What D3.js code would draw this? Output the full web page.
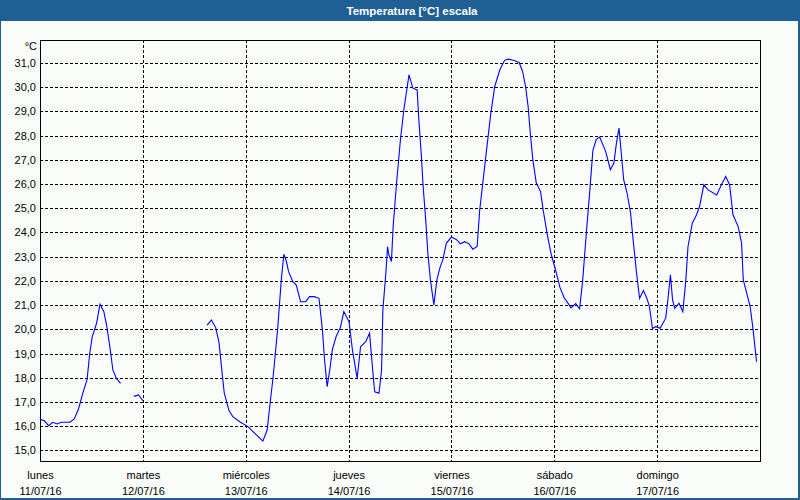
<!DOCTYPE html>
<html>
<head>
<meta charset="utf-8">
<script src="https://cdn.jsdelivr.net/npm/d3@7"></script>
<style>
  html, body { margin: 0; padding: 0; background: #fafcfa; }
  svg { display: block; }
  text { font-family: "Liberation Sans", Arial, sans-serif; }
</style>
</head>
<body>
<script>
// ---- data ----
const chartTitle = "Temperatura [°C] escala";
const unitLabel = "°C";
const dayNames = ["lunes", "martes", "miércoles", "jueves", "viernes", "sábado", "domingo"];
const dayDates = ["11/07/16", "12/07/16", "13/07/16", "14/07/16", "15/07/16", "16/07/16", "17/07/16"];
const yTicks = [15, 16, 17, 18, 19, 20, 21, 22, 23, 24, 25, 26, 27, 28, 29, 30, 31];
// hours since lunes 11/07/16 00:00 ; null value = gap in the record
const hours = [0,1,2,3,4,5,7,8,9,10,11,11.6,12.2,13.2,14,14.9,15.6,16.4,17,17.8,18.8,
  20,
  21.9,23,24,
  30,
  39,40,41,41.8,42.5,43,44.1,45,46.6,48.5,52,53,53.6,54.4,55.5,56.3,56.9,57.5,58,59,59.8,60.8,62,62.9,64,65.1,65.9,66.4,67,67.6,68.2,69.1,70.1,70.9,72.1,72.9,74,74.8,76,76.9,77.3,77.9,78.1,79.1,79.7,80,80.7,81.1,81.4,82,82.4,83.2,84.1,84.9,86.1,87,88,88.4,89,89.4,90,90.5,91.1,91.9,92.6,93.4,94,94.8,96,97.2,98.1,99.1,100.1,101,102,102.6,103.4,104.2,105.2,106.1,107.3,108.4,109.2,110.5,111.8,112.6,113.3,113.9,114.4,115,115.8,116.8,117.4,118.3,119.3,120.3,121.3,122.3,123.2,123.9,125,125.9,126.6,127.4,128.3,129,129.8,130.6,132,133.1,133.9,134.5,135.1,135.7,136.2,137,137.8,138.4,139.2,139.9,140.8,141.6,142.2,142.9,143.7,144.7,146,146.5,147.1,147.6,148.1,149.1,150,150.7,151.2,152.2,153.2,153.9,154.9,155.9,157.9,159,160,160.9,161.7,162.9,163.7,164.1,164.9,165.7,166.3,167.2];
const temps = [16.28,16.22,16.02,16.16,16.09,16.16,16.16,16.3,16.72,17.36,17.94,19.0,19.7,20.25,21.04,20.73,20.11,19.15,18.32,17.98,17.77,
  null,
  17.23,17.29,17.05,
  null,
  20.17,20.39,20.07,19.42,18.18,17.36,16.64,16.39,16.18,15.98,15.38,15.84,16.8,18.04,20.11,22.04,23.1,22.8,22.38,21.97,21.83,21.14,21.14,21.35,21.35,21.28,19.97,18.73,17.63,18.3,19.15,19.7,20.08,20.73,20.32,19.15,17.98,19.28,19.49,19.84,19.0,17.77,17.42,17.36,18.32,20.8,22.32,23.42,23.07,22.8,24.24,26.04,27.83,29.07,30.51,29.96,29.89,28.65,27.14,25.9,24.52,23.14,22.04,21.01,22.04,22.59,22.87,23.55,23.81,23.7,23.53,23.62,23.53,23.31,23.42,24.93,26.17,27.41,28.93,30.03,30.72,31.11,31.16,31.11,31.02,30.65,30.03,29.2,28.1,27.0,26.04,25.69,24.93,23.97,23.07,22.45,21.74,21.3,21.08,20.88,21.06,20.85,21.97,23.8,25.75,27.38,27.85,27.94,27.34,26.59,26.86,27.69,28.31,27.14,26.17,25.62,24.8,23.69,22.32,21.28,21.6,21.28,20.94,20.04,20.11,20.04,20.46,21.21,22.25,21.21,20.87,21.08,20.73,22.04,23.42,24.38,24.73,25.07,25.97,25.76,25.55,25.97,26.31,25.97,24.73,24.24,23.56,22.04,21.49,20.94,20.11,18.66];

// ---- layout ----
const W = 800, H = 500;
const plotL = 40, plotR = 760, plotT = 40, plotB = 461;
const barColor = "#1f5f94";

const svg = d3.select("body").append("svg").attr("width", W).attr("height", H);

svg.append("rect").attr("x", 0).attr("y", 0).attr("width", W).attr("height", H).attr("fill", "#fafcfa");
svg.append("rect").attr("x", 0).attr("y", 0).attr("width", W).attr("height", 21).attr("fill", barColor);
svg.append("text").attr("x", 412).attr("y", 10.5).attr("text-anchor", "middle").attr("dominant-baseline", "central")
  .attr("fill", "#ffffff").attr("font-weight", "bold").attr("font-size", "11.5px").text(chartTitle);
// outer frame
svg.append("rect").attr("x", 0.5).attr("y", 0.5).attr("width", W - 1).attr("height", H - 1)
  .attr("fill", "none").attr("stroke", barColor).attr("stroke-width", 1);
svg.append("line").attr("x1", W - 1.5).attr("x2", W - 1.5).attr("y1", 0).attr("y2", H).attr("stroke", barColor);
svg.append("line").attr("x1", 0).attr("x2", W).attr("y1", H - 1.5).attr("y2", H - 1.5).attr("stroke", barColor);

const start = new Date(2016, 6, 11);
const end = new Date(2016, 6, 18);
const x = d3.scaleTime().domain([start, end]).range([plotL, plotR]);
const y = d3.scaleLinear().domain([14.56, 31.95]).range([plotB, plotT]);
const hourDate = h => new Date(start.getTime() + h * 3600 * 1000);
const dayTicks = d3.range(dayNames.length).map(i => d3.timeDay.offset(start, i));

// horizontal grid
const grid = svg.append("g").attr("shape-rendering", "crispEdges");
grid.selectAll("line.h").data(yTicks).join("line")
  .attr("x1", plotL).attr("x2", plotR)
  .attr("y1", d => Math.round(y(d)) + 0.5).attr("y2", d => Math.round(y(d)) + 0.5)
  .attr("stroke", "#000").attr("stroke-dasharray", "3,2");
// vertical grid
grid.selectAll("line.v").data(dayTicks.slice(1)).join("line")
  .attr("x1", d => Math.round(x(d)) + 0.5).attr("x2", d => Math.round(x(d)) + 0.5)
  .attr("y1", plotT).attr("y2", plotB)
  .attr("stroke", "#000").attr("stroke-dasharray", "3,2");

// y axis labels
const yAxis = d3.axisLeft(y).tickValues(yTicks).tickSize(0).tickPadding(4)
  .tickFormat(d => d3.format(".1f")(d).replace(".", ","));
const ya = svg.append("g").attr("transform", `translate(${plotL},0)`).call(yAxis);
ya.select(".domain").remove();
ya.selectAll("text").attr("font-size", "11px").attr("fill", "#000").attr("font-family", "Liberation Sans, Arial, sans-serif");
svg.append("text").attr("x", 37).attr("y", 46).attr("text-anchor", "end").attr("dominant-baseline", "central")
  .attr("font-size", "11px").text(unitLabel);

// x axis labels (two lines)
const xAxis = d3.axisBottom(x).tickValues(dayTicks).tickSize(0).tickPadding(0).tickFormat(() => "");
const xa = svg.append("g").attr("transform", `translate(0,${plotB})`).call(xAxis);
xa.select(".domain").remove();
xa.selectAll(".tick").each(function(d, i) {
  const g = d3.select(this);
  g.append("text").attr("y", 14).attr("text-anchor", "middle").attr("dominant-baseline", "central")
    .attr("font-size", "11px").attr("fill", "#000").text(dayNames[i]);
  g.append("text").attr("y", 29.5).attr("text-anchor", "middle").attr("dominant-baseline", "central")
    .attr("font-size", "11px").attr("fill", "#000").text(dayDates[i]);
});

// plot frame
svg.append("rect").attr("x", plotL + 0.5).attr("y", plotT + 0.5).attr("width", plotR - plotL).attr("height", plotB - plotT)
  .attr("fill", "none").attr("stroke", "#000").attr("stroke-width", 1).attr("shape-rendering", "crispEdges");

// data line
const pts = hours.map((h, i) => ({ t: hourDate(h), v: temps[i] }));
const line = d3.line().defined(d => d.v !== null).x(d => x(d.t)).y(d => y(d.v));
svg.append("path").datum(pts).attr("d", line).attr("fill", "none").attr("stroke", "#0000ff").attr("stroke-width", 1.1);
</script>
</body>
</html>
